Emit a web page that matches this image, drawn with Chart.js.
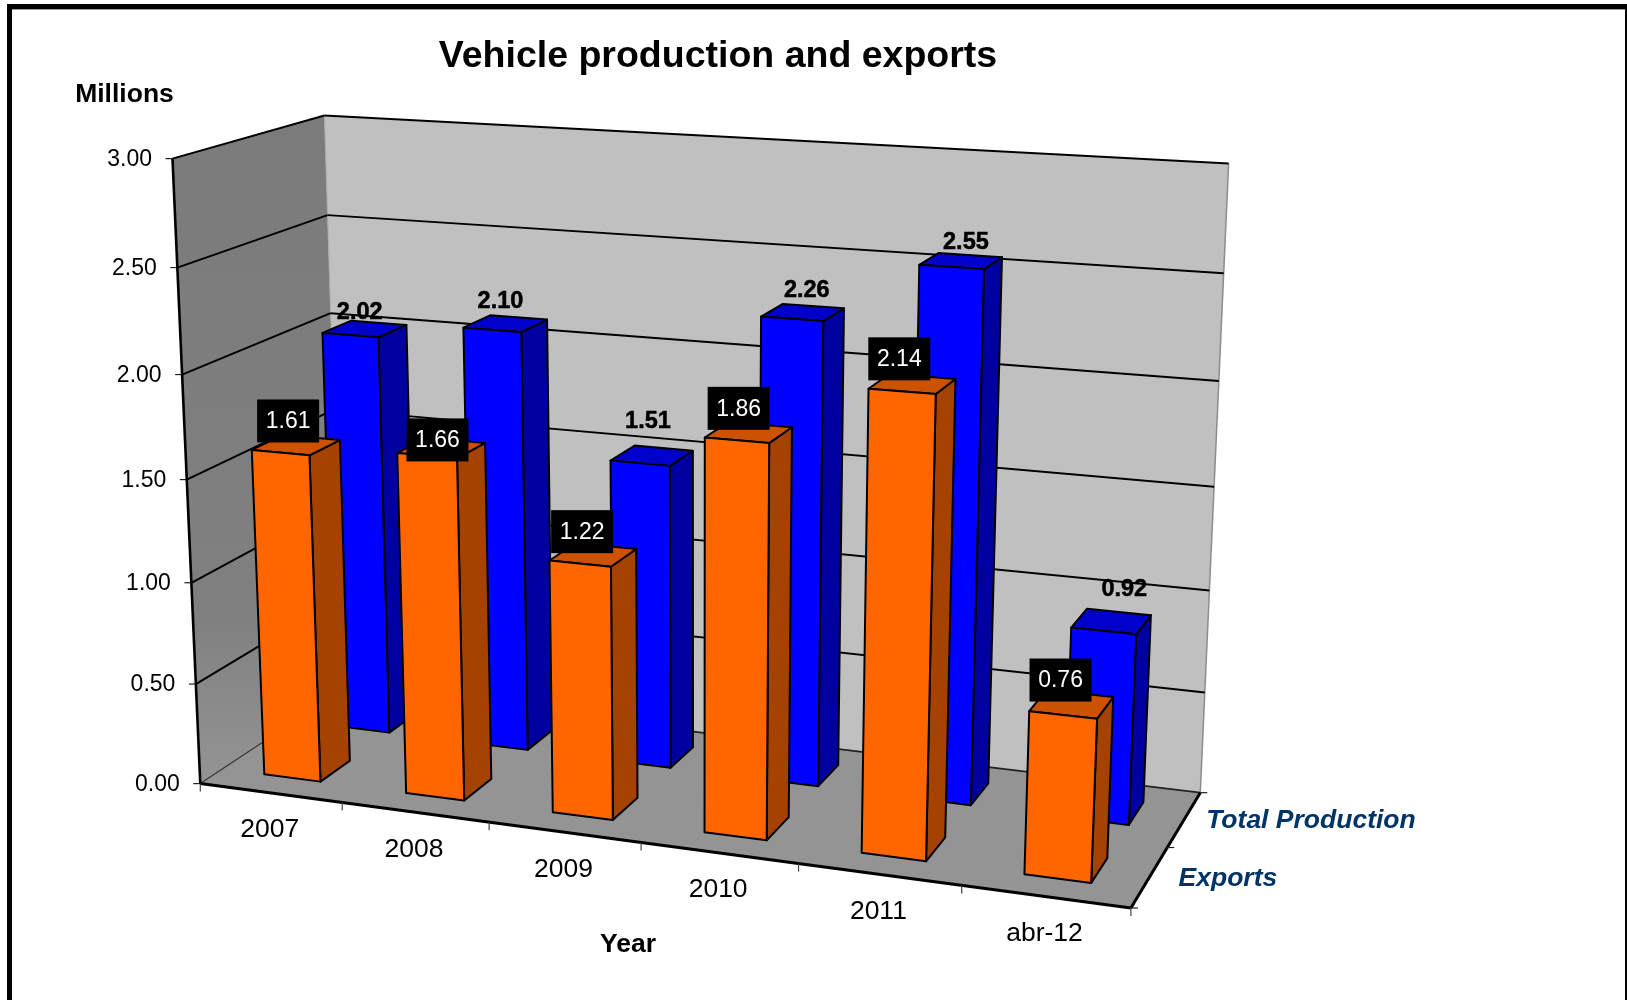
<!DOCTYPE html>
<html>
<head>
<meta charset="utf-8">
<style>html,body{margin:0;padding:0;background:#fff;overflow:hidden}canvas{display:block}</style>
<script src="https://cdn.jsdelivr.net/npm/chart.js@4"></script>
</head>
<body>
<canvas id="c" width="1627" height="1000"></canvas>
<script>
// ---- data ----
const categories = ['2007', '2008', '2009', '2010', '2011', 'abr-12'];
const totalProduction = [2.02, 2.10, 1.51, 2.26, 2.55, 0.92];
const exportsValues = [1.61, 1.66, 1.22, 1.86, 2.14, 0.76];
const seriesNames = ['Exports', 'Total Production'];   // front to back
const valueMax = 3;
const valueStep = 0.5;
const chartTitle = 'Vehicle production and exports';
const yTitle = 'Millions';
const xTitle = 'Year';

// ---- styling of the 3D view ----
const FONT = '"Liberation Sans", Arial, sans-serif';
const view = {               // projective box: origin, axis ends and their weights
  O: [200.3, 783.6],
  U: [1130.9, 908.0], wu: 0.9,
  V: [172.5, 158.6],  wv: 0.947,
  D: [342.5, 689.4],  wd: 1.093
};
const barDepth = 0.104;      // half depth of a bar in one depth slot
const barStyles = {
  'Exports':          {front: '#FF6600', top: '#CC5200', side: '#A64200'},
  'Total Production': {front: '#0000FF', top: '#0000CC', side: '#0000A0'}
};
const labelNudge = {
  'Exports':          [[-8,-24],[-4,-8],[-11,-23],[-10,-24],[-13,-25],[-11,-24]],
  'Total Production': [[-5,-17],[-5,-23],[-4,-35],[4,-23],[5,-19],[13,-33]]
};
const depthLabelGap = {'Exports': 29, 'Total Production': 22};

function project(u, v, d) {
  const {O, U, V, D, wu, wv, wd} = view;
  const w = 1 + u * (wu - 1) + v * (wv - 1) + d * (wd - 1);
  const x = O[0] + u * (wu * U[0] - O[0]) + v * (wv * V[0] - O[0]) + d * (wd * D[0] - O[0]);
  const y = O[1] + u * (wu * U[1] - O[1]) + v * (wv * V[1] - O[1]) + d * (wd * D[1] - O[1]);
  return [x / w, y / w];
}
function poly(ctx, pts, fill, stroke, lw) {
  ctx.beginPath();
  pts.forEach((p, i) => i ? ctx.lineTo(p[0], p[1]) : ctx.moveTo(p[0], p[1]));
  ctx.closePath();
  if (fill) { ctx.fillStyle = fill; ctx.fill(); }
  if (stroke) { ctx.strokeStyle = stroke; ctx.lineWidth = lw; ctx.lineJoin = 'round'; ctx.stroke(); }
}
function seg(ctx, a, b, color, lw) {
  ctx.beginPath(); ctx.moveTo(a[0], a[1]); ctx.lineTo(b[0], b[1]);
  ctx.strokeStyle = color; ctx.lineWidth = lw; ctx.stroke();
}
function text(ctx, s, x, y, font, color, align) {
  ctx.font = font; ctx.fillStyle = color; ctx.textAlign = align || 'center';
  ctx.textBaseline = 'middle'; ctx.fillText(s, x, y);
}
const uOf = (chart, px) => (px - chart.chartArea.left) / chart.chartArea.width;
const vOf = (chart, px) => (chart.chartArea.bottom - px) / chart.chartArea.height;
const depthCenter = name => (seriesNames.indexOf(name) + 0.5) / seriesNames.length;

const scene3d = {
  id: 'scene3d',
  beforeDatasetsDraw(chart) {
    const ctx = chart.ctx, xs = chart.scales.x, ys = chart.scales.y;
    ctx.save();
    // page frame
    ctx.fillStyle = '#000';
    ctx.fillRect(7, 4, 1620, 5);
    ctx.fillRect(7, 4, 5, 996);
    ctx.fillRect(1625, 4, 2, 996);
    ctx.fillStyle = '#999';
    ctx.fillRect(12, 9, 1613, 1);

    // walls and floor
    const lw = ctx.createLinearGradient(0, 115, 0, 783);
    lw.addColorStop(0, '#7b7b7b'); lw.addColorStop(0.75, '#808080'); lw.addColorStop(1, '#949494');
    poly(ctx, [project(0,0,0), project(0,1,0), project(0,1,1), project(0,0,1)], lw);
    poly(ctx, [project(0,0,1), project(0,1,1), project(1,1,1), project(1,0,1)], '#C0C0C0');
    poly(ctx, [project(0,0,0), project(1,0,0), project(1,0,1), project(0,0,1)], '#949494');

    // wall edges
    seg(ctx, project(0,1,1), project(0,0,1), '#aaaaaa', 1);
    seg(ctx, project(1,1,1), project(1,0,1), '#8c8c8c', 1.5);
    seg(ctx, project(0,0,0), project(0,0,1), '#333', 1.2);
    seg(ctx, project(0,0,1), project(1,0,1), '#222', 1.6);

    // gridlines and value axis
    ys.ticks.forEach(t => {
      const v = vOf(chart, ys.getPixelForValue(t.value));
      if (v > 0.001) {
        seg(ctx, project(0,v,0), project(0,v,1), '#000', 2);
        seg(ctx, project(0,v,1), project(1,v,1), '#000', 1.9);
      }
      const p = project(0,v,0);
      seg(ctx, [p[0] - 7, p[1]], p, '#222', 1.2);
      text(ctx, t.label, p[0] - 20.5, p[1] + 1, '23px ' + FONT, '#000', 'right');
    });
    seg(ctx, project(0,0,0), project(0,1,0), '#000', 2.6);

    // category axis
    seg(ctx, project(0,0,0), project(1,0,0), '#000', 3);
    seg(ctx, project(1,0,0), project(1,0,1), '#000', 3);
    for (let i = 0; i <= categories.length; i++) {
      const p = project(i / categories.length, 0, 0);
      seg(ctx, p, [p[0], p[1] + 8], '#444', 1.2);
    }
    categories.forEach((c, i) => {
      const p = project(uOf(chart, xs.getPixelForValue(i)), 0, 0);
      text(ctx, xs.getLabelForValue(i), p[0] - 1, p[1] + 37, '26.5px ' + FONT, '#000');
    });

    // depth axis
    for (let i = 0; i <= seriesNames.length; i++) {
      const p = project(1, 0, i / seriesNames.length);
      seg(ctx, p, [p[0] + 7, p[1]], '#222', 1.2);
    }
    seriesNames.forEach(n => {
      const p = project(1, 0, depthCenter(n));
      text(ctx, n, p[0] + depthLabelGap[n], p[1] + 1.5, 'italic bold 26.5px ' + FONT, '#003366', 'left');
    });

    // titles
    text(ctx, chartTitle, 718, 57, 'bold 37.5px ' + FONT, '#000');
    text(ctx, yTitle, 124.5, 94.5, 'bold 26.5px ' + FONT, '#000');
    text(ctx, xTitle, 628, 945, 'bold 26.5px ' + FONT, '#000');
    ctx.restore();
  },
  beforeDatasetDraw(chart, args) {
    const ctx = chart.ctx, meta = args.meta, name = chart.data.datasets[args.index].label;
    const st = barStyles[name], dc = depthCenter(name);
    ctx.save();
    meta.data.forEach(el => {
      const u0 = uOf(chart, el.x - el.width / 2), u1 = uOf(chart, el.x + el.width / 2);
      const v0 = vOf(chart, el.base), v1 = vOf(chart, el.y);
      const d0 = dc - barDepth, d1 = dc + barDepth;
      poly(ctx, [project(u1,v0,d0), project(u1,v1,d0), project(u1,v1,d1), project(u1,v0,d1)], st.side, '#000', 2);
      poly(ctx, [project(u0,v1,d0), project(u1,v1,d0), project(u1,v1,d1), project(u0,v1,d1)], st.top, '#000', 2);
      poly(ctx, [project(u0,v0,d0), project(u1,v0,d0), project(u1,v1,d0), project(u0,v1,d0)], st.front, '#000', 2);
    });
    ctx.restore();
    return false;
  },
  afterDatasetsDraw(chart) {
    const ctx = chart.ctx;
    ctx.save();
    // back series labels first, boxed front series labels on top
    [...seriesNames].reverse().forEach(name => {
      const idx = chart.data.datasets.findIndex(d => d.label === name);
      const ds = chart.data.datasets[idx], meta = chart.getDatasetMeta(idx), dc = depthCenter(name);
      meta.data.forEach((el, i) => {
        const p = project(uOf(chart, el.x), vOf(chart, el.y), dc);
        const n = labelNudge[name][i], cx = p[0] + n[0], cy = p[1] + n[1];
        const s = ds.data[i].toFixed(2);
        if (name === 'Exports') {
          ctx.fillStyle = '#000';
          ctx.fillRect(cx - 31, cy - 21.5, 62, 43);
          text(ctx, s, cx, cy + 1, '23px ' + FONT, '#fff');
        } else {
          text(ctx, s, cx, cy + 1, 'bold 23.5px ' + FONT, '#000');
          ctx.strokeStyle = '#000'; ctx.lineWidth = 0.5; ctx.strokeText(s, cx, cy + 1);
        }
      });
    });
    ctx.restore();
  }
};

new Chart(document.getElementById('c'), {
  type: 'bar',
  data: {
    labels: categories,
    datasets: [
      {label: 'Exports', data: exportsValues, backgroundColor: '#FF6600', order: 0},
      {label: 'Total Production', data: totalProduction, backgroundColor: '#0000FF', order: 1}
    ]
  },
  options: {
    responsive: false,
    animation: false,
    events: [],
    datasets: {bar: {grouped: false, categoryPercentage: 1, barPercentage: 0.4}},
    layout: {padding: 0},
    plugins: {legend: {display: false}, title: {display: false}, tooltip: {enabled: false}},
    scales: {
      x: {display: false, type: 'category'},
      y: {display: false, type: 'linear', min: 0, max: valueMax,
          ticks: {stepSize: valueStep, callback: v => v.toFixed(2)}}
    }
  },
  plugins: [scene3d]
});
</script>
</body>
</html>
